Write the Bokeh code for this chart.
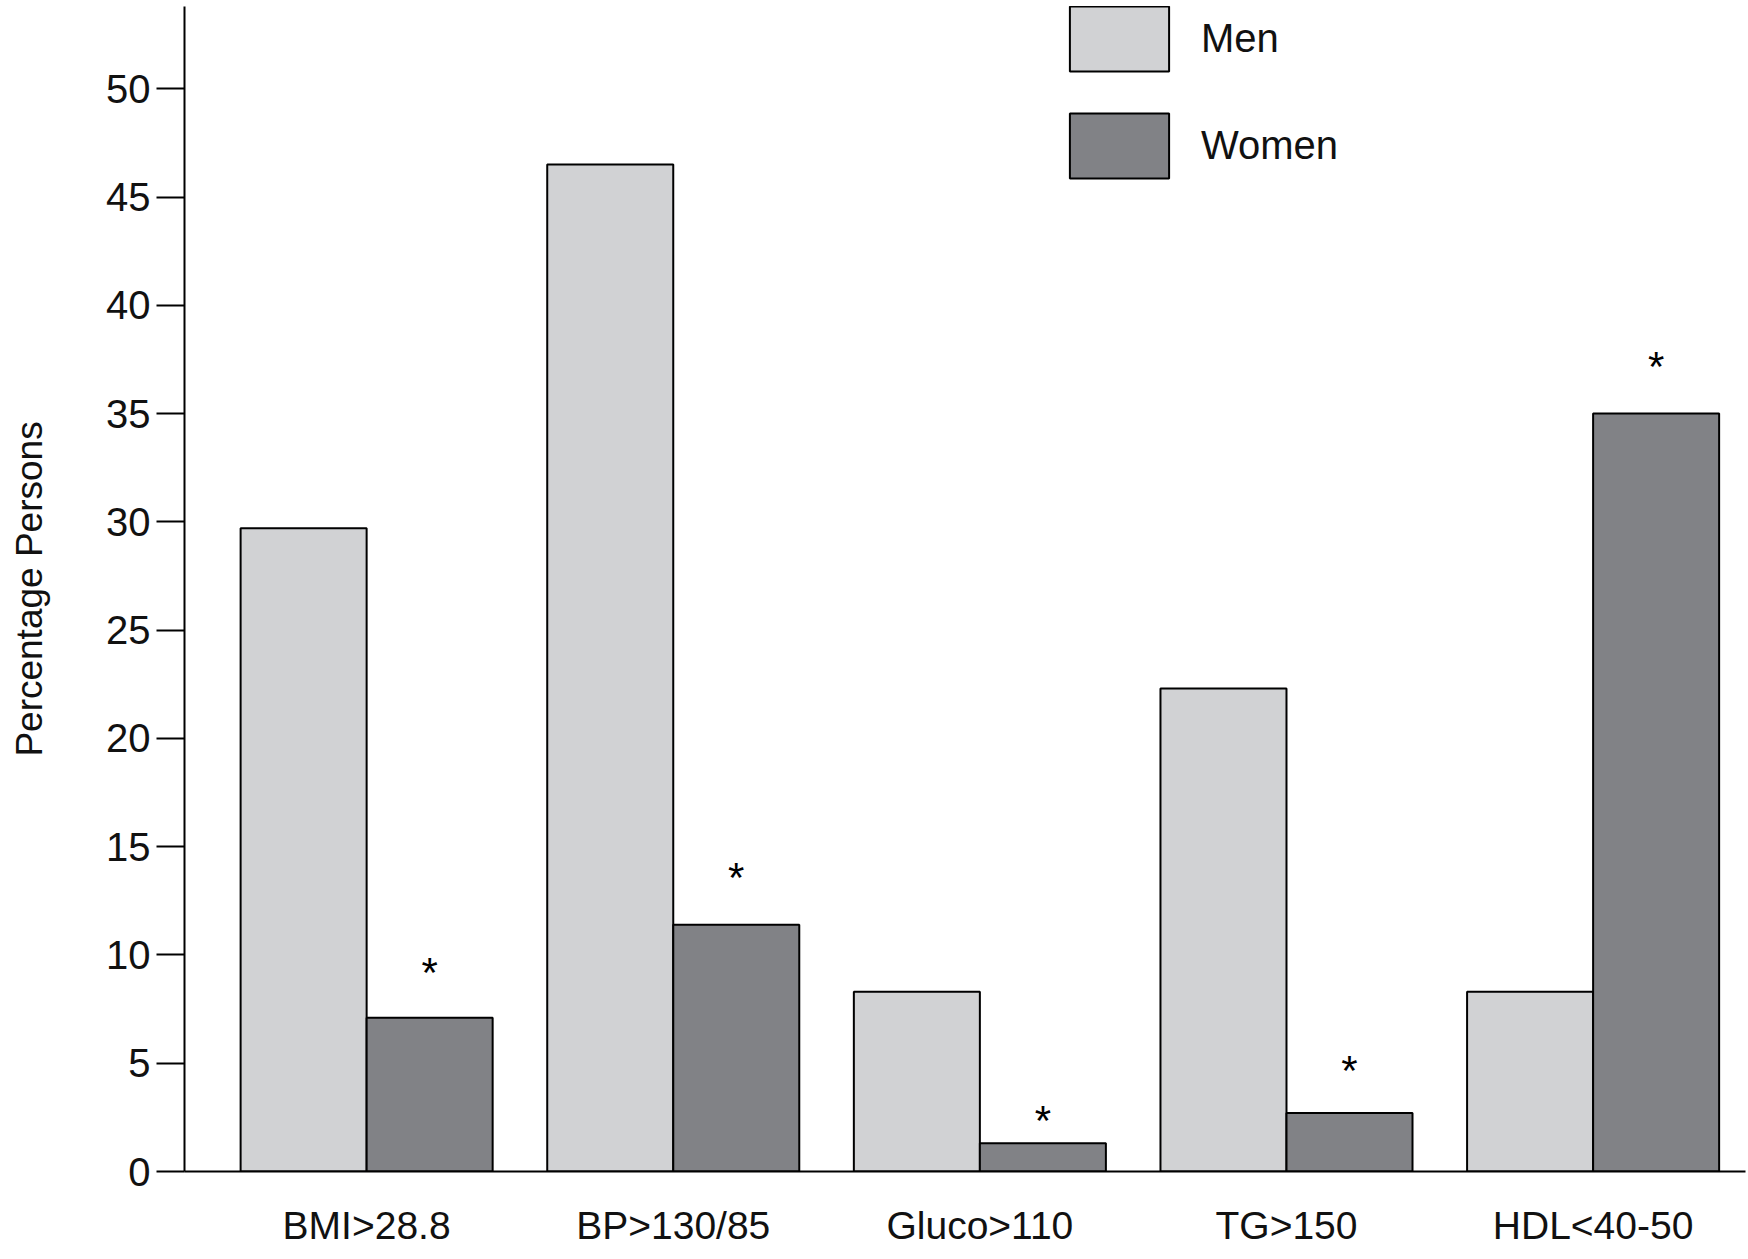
from bokeh.plotting import figure
from bokeh.models import Range1d, FixedTicker, ColumnDataSource, Legend, LegendItem
from bokeh.core.properties import value
from bokeh.embed import file_html
from bokeh.resources import INLINE
from bokeh.transform import dodge

# ---- data ----
categories = ["BMI>28.8", "BP>130/85", "Gluco>110", "TG>150", "HDL<40-50"]
men = [29.7, 46.5, 8.3, 22.3, 8.3]
women = [7.1, 11.4, 1.3, 2.7, 35.0]
star_y = [9.4, 13.8, 2.6, 4.9, 37.4]      # height of the significance asterisks
star_text = ["*", "*", "*", "*", "*"]
y_ticks = [0, 5, 10, 15, 20, 25, 30, 35, 40, 45, 50]

FONT = "Liberation Sans"
MEN_COLOR = "#D1D2D4"
WOMEN_COLOR = "#818286"

xs = list(range(len(categories)))
src = ColumnDataSource(dict(x=xs, men=men, women=women, star=star_y, label=star_text))

p = figure(width=1746, height=1255,
           x_range=Range1d(-0.594, 4.497), y_range=Range1d(0, 53.8),
           output_backend="svg", toolbar_location=None,
           min_border_left=184, min_border_right=1,
           min_border_top=6, min_border_bottom=84)

BW = 0.411
r_men = p.vbar(x=dodge("x", -BW / 2, range=p.x_range), top="men", width=BW, source=src,
               fill_color=MEN_COLOR, line_color="black", line_width=2)
r_women = p.vbar(x=dodge("x", BW / 2, range=p.x_range), top="women", width=BW, source=src,
                 fill_color=WOMEN_COLOR, line_color="black", line_width=2)

p.text(x=dodge("x", BW / 2, range=p.x_range), y="star", text="label", source=src,
       text_align="center", text_baseline="middle", y_offset=5,
       text_font=value(FONT), text_font_size="42px", text_color="black")

legend = Legend(items=[LegendItem(label="Men", renderers=[r_men]),
                       LegendItem(label="Women", renderers=[r_women])],
                location=(873, 985), glyph_width=124, glyph_height=81, spacing=26,
                label_standoff=20, padding=0, margin=0,
                border_line_color=None, background_fill_alpha=0,
                label_text_font=FONT, label_text_font_size="40px",
                label_text_color="#111111")
p.add_layout(legend)

p.xgrid.visible = False
p.ygrid.visible = False
p.outline_line_color = None

xa = p.xaxis[0]
xa.ticker = FixedTicker(ticks=xs)
xa.major_label_overrides = {i: c for i, c in enumerate(categories)}
xa.major_tick_line_color = None
xa.major_tick_out = 0
xa.major_tick_in = 0
xa.minor_tick_line_color = None
xa.axis_line_width = 2
xa.axis_line_color = "black"
xa.major_label_standoff = 32
xa.major_label_text_font = FONT
xa.major_label_text_font_size = "39px"
xa.major_label_text_color = "#111111"

ya = p.yaxis[0]
ya.ticker = FixedTicker(ticks=y_ticks)
ya.major_tick_out = 28
ya.major_tick_in = 0
ya.major_tick_line_width = 2
ya.major_tick_line_color = "black"
ya.minor_tick_line_color = None
ya.axis_line_width = 2
ya.axis_line_color = "black"
ya.major_label_standoff = 6
ya.major_label_text_font = FONT
ya.major_label_text_font_size = "40px"
ya.major_label_text_color = "#111111"
ya.axis_label = "Percentage Persons"
ya.axis_label_text_font = FONT
ya.axis_label_text_font_size = "37px"
ya.axis_label_text_font_style = "normal"
ya.axis_label_text_color = "#111111"
ya.axis_label_standoff = 53

open("out.html", "w").write(file_html(p, INLINE))
